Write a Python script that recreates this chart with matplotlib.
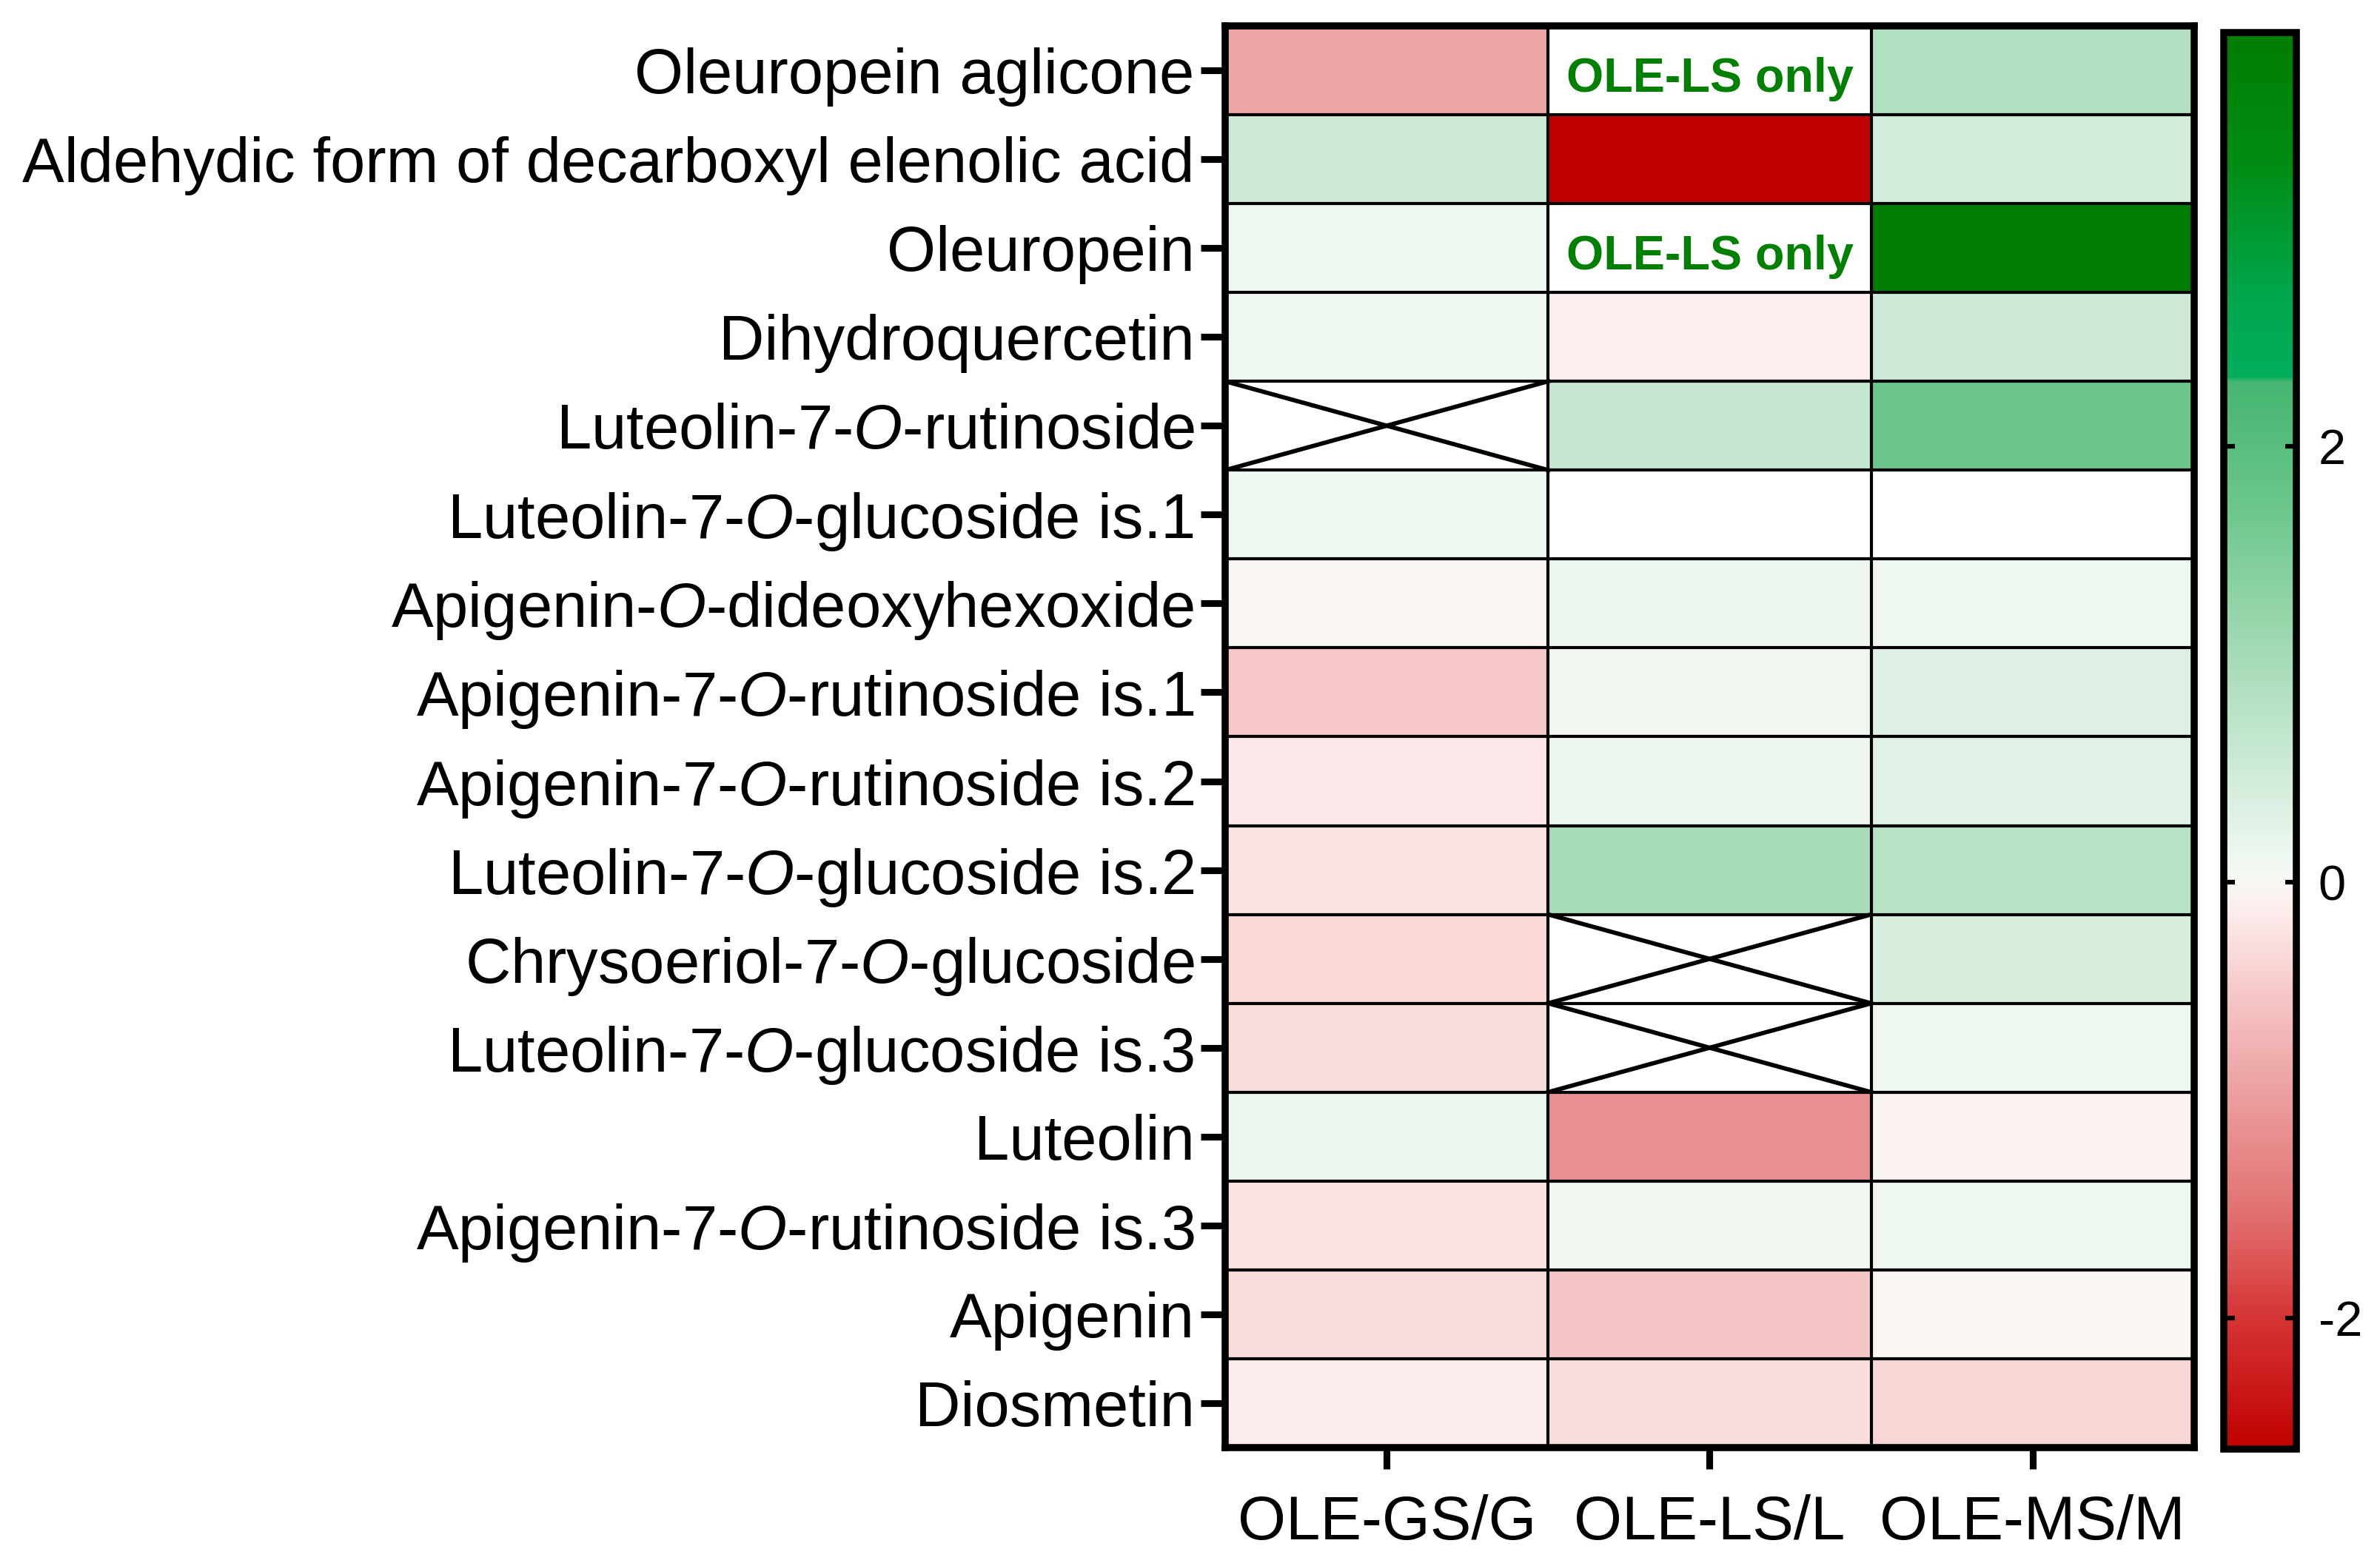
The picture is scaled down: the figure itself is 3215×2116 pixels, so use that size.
import numpy as np
import matplotlib
matplotlib.use("Agg")
import matplotlib.pyplot as plt
from matplotlib.colors import LinearSegmentedColormap, Normalize

plt.rcParams['font.family'] = ['Liberation Sans', 'DejaVu Sans']
plt.rcParams['mathtext.fontset'] = 'custom'
plt.rcParams['mathtext.rm'] = 'Liberation Sans'
plt.rcParams['mathtext.it'] = 'Liberation Sans:italic'
plt.rcParams['axes.unicode_minus'] = False

compounds = [
    "Oleuropein aglicone",
    "Aldehydic form of decarboxyl elenolic acid",
    "Oleuropein",
    "Dihydroquercetin",
    "Luteolin-7-$O$-rutinoside",
    "Luteolin-7-$O$-glucoside is.1",
    "Apigenin-$O$-dideoxyhexoxide",
    "Apigenin-7-$O$-rutinoside is.1",
    "Apigenin-7-$O$-rutinoside is.2",
    "Luteolin-7-$O$-glucoside is.2",
    "Chrysoeriol-7-$O$-glucoside",
    "Luteolin-7-$O$-glucoside is.3",
    "Luteolin",
    "Apigenin-7-$O$-rutinoside is.3",
    "Apigenin",
    "Diosmetin",
]
groups = ["OLE-GS/G", "OLE-LS/L", "OLE-MS/M"]

nan = np.nan
# log fold change per compound, columns G / L / M
ole_gs = [-0.90, 0.53, 0.12, 0.12, nan, 0.12, -0.03, -0.50,
          -0.17, -0.22, -0.34, -0.29, 0.14, -0.22, -0.30, -0.12]
ole_ls = [nan, -2.60, nan, -0.10, 0.63, nan, 0.14, 0.10,
          0.14, 1.00, nan, nan, -1.13, 0.07, -0.52, -0.29]
ole_ms = [0.88, 0.45, 3.90, 0.52, 1.74, nan, 0.11, 0.33,
          0.30, 0.79, 0.39, 0.12, -0.05, 0.11, -0.03, -0.36]

# cells marked "OLE-LS only" and cells crossed out (row, col)
only_cells = [(0, 1), (2, 1)]
crossed_cells = [(4, 0), (10, 1), (11, 1)]
only_text = "OLE-LS only"

vmin, vmax = -2.6, 3.9
cbar_ticks = [-2, 0, 2]

nodes = [(-2.6, "#C00000"), (-2.0, "#D63434"), (-1.5, "#E27272"),
         (-0.9, "#EDA5A5"), (-0.5, "#F6C8C8"), (-0.25, "#FBE1E1"),
         (-0.08, "#FCF0F0"), (0.0, "#F8F8F5"), (0.12, "#EEF7F0"),
         (0.5, "#CFEBD9"), (1.0, "#A8DCB8"), (1.74, "#6AC68A"),
         (2.30, "#45B570"), (2.32, "#00AE5A"), (2.7, "#00A64C"),
         (3.3, "#008C14"), (3.9, "#007D00")]
cmap = LinearSegmentedColormap.from_list(
    "prism_rg", [((v - vmin) / (vmax - vmin), c) for v, c in nodes], N=1024)
cmap.set_bad("white")

data = np.ma.masked_invalid(np.column_stack([ole_gs, ole_ls, ole_ms]))
n_rows, n_cols = data.shape

fig = plt.figure(figsize=(3215 / 300, 2116 / 300), dpi=300)
ax = fig.add_axes([0.5148, 0.0756, 0.4071, 0.9079])
cax = fig.add_axes([0.9345, 0.0747, 0.0305, 0.9045])

norm = Normalize(vmin=vmin, vmax=vmax)
mesh = ax.pcolormesh(np.arange(n_cols + 1), np.arange(n_rows + 1), data,
                     cmap=cmap, norm=norm)

# cell borders
for y in range(1, n_rows):
    ax.axhline(y, color="black", lw=1.0)
for x in range(1, n_cols):
    ax.axvline(x, color="black", lw=1.0)

for r, c in crossed_cells:
    ax.plot([c, c + 1], [r, r + 1], color="black", lw=1.4)
    ax.plot([c, c + 1], [r + 1, r], color="black", lw=1.4)

for r, c in only_cells:
    ax.text(c + 0.5, r + 0.6, only_text, ha="center", va="center",
            fontsize=15.5, fontweight="bold", color="#008000")

ax.set_xlim(0, n_cols)
ax.set_ylim(n_rows, 0)
ax.set_xticks(np.arange(n_cols) + 0.5)
ax.set_xticklabels(groups, fontsize=20)
ax.set_yticks(np.arange(n_rows) + 0.5)
ax.set_yticklabels(compounds, fontsize=20.4)
ax.tick_params(axis="y", length=8, width=2.2, pad=2)
ax.tick_params(axis="x", length=7, width=2.2, pad=8)
for sp in ax.spines.values():
    sp.set_linewidth(2.3)

cbar = fig.colorbar(mesh, cax=cax)
cbar.set_ticks(cbar_ticks)
cbar.outline.set_linewidth(2.3)
cax.tick_params(direction="in", left=True, right=True, length=3.5,
                width=1.5, labelsize=16, pad=7)

fig.savefig("out.png", dpi=300, facecolor="white")
